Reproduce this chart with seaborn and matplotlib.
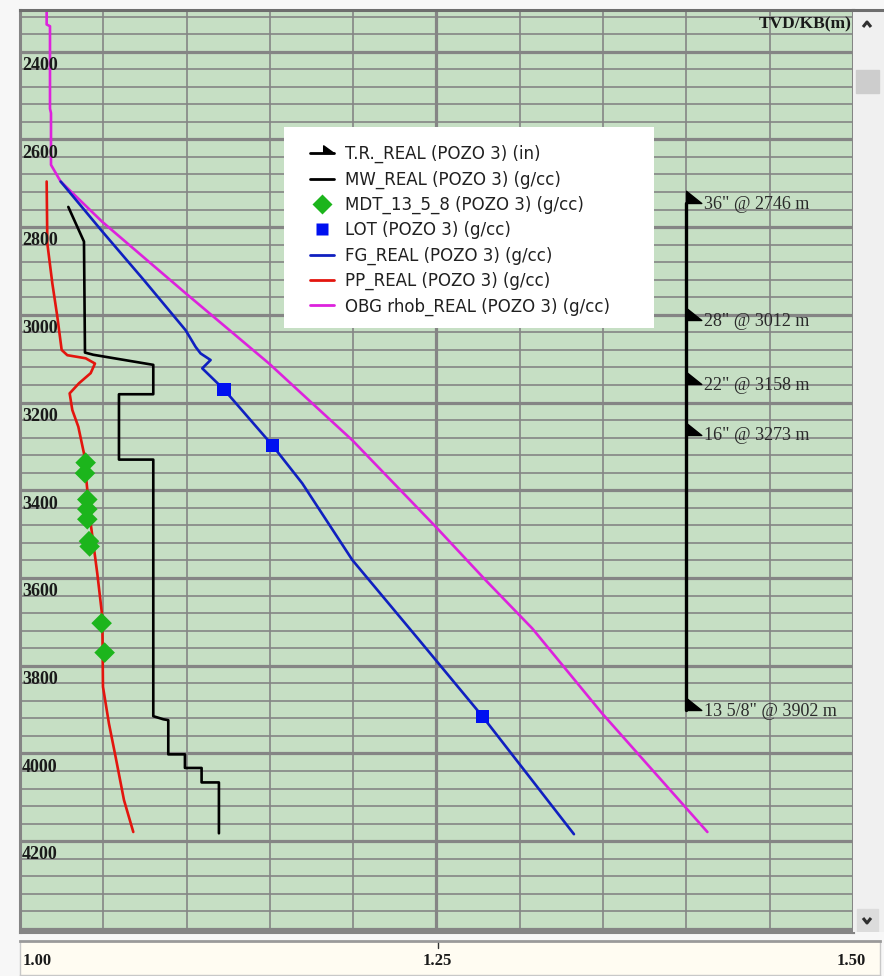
import numpy as np
import seaborn as sns
import matplotlib as mpl
from matplotlib import pyplot as plt
from matplotlib.lines import Line2D
from matplotlib.patches import Rectangle
from matplotlib.path import Path

# ---- values (TVD in m, density in g/cc)
obg_depth = [2305, 2338, 2342, 2530, 2540, 2658, 2696, 2788, 2951, 3111, 3286, 3483, 3605, 3715, 3909, 4179]
obg_val = [1.0160, 1.0160, 1.0180, 1.0180, 1.0186, 1.0186, 1.0244, 1.0494, 1.0995, 1.1495,
           1.1995, 1.2495, 1.2795, 1.3075, 1.3495, 1.4126]

fg_depth = [2696, 2810, 2921, 3035, 3073, 3088, 3103, 3122, 3170, 3297, 3384, 3559, 3741, 3915, 4184]
fg_val = [1.0244, 1.0494, 1.0744, 1.0994, 1.1054, 1.1084, 1.1144, 1.1094, 1.1224, 1.1514,
          1.1694, 1.1995, 1.2395, 1.2775, 1.3325]

pp_depth = [2696, 2837, 2928, 3004, 3080, 3092, 3099, 3111, 3133, 3156, 3179, 3217, 3255, 3316,
            3361, 3475, 3590, 3688, 3848, 3932, 4008, 4106, 4179]
pp_val = [1.0160, 1.0164, 1.0194, 1.0224, 1.0250, 1.0284, 1.0394, 1.0450, 1.0424, 1.0354, 1.0298,
          1.0314, 1.0350, 1.0384, 1.0394, 1.0424, 1.0464, 1.0494, 1.0498, 1.0534, 1.0574, 1.0624, 1.0680]

mw_depth = [2754, 2833, 3086, 3091, 3114, 3181, 3181, 3330, 3330, 3915, 3922, 3924, 4002, 4002,
            4033, 4033, 4066, 4066, 4182]
mw_val = [1.029, 1.0384, 1.039, 1.044, 1.080, 1.080, 1.0594, 1.0594, 1.080, 1.080, 1.086, 1.089,
          1.089, 1.099, 1.099, 1.109, 1.109, 1.1194, 1.1194]

mdt_depth = [3337, 3361, 3421, 3443, 3466, 3516, 3528, 3703, 3770]
mdt_val = [1.0394, 1.0390, 1.0404, 1.0404, 1.0404, 1.0414, 1.0418, 1.0490, 1.0508]

lot_depth = [3170, 3297, 3915]
lot_val = [1.1224, 1.1514, 1.2775]

casing_depth = [2746, 3012, 3158, 3273, 3902]
casing_size = ['36"', '28"', '22"', '16"', '13 5/8"']
casing_x = 1.40

depth_labels = [2400, 2600, 2800, 3000, 3200, 3400, 3600, 3800, 4000, 4200, 4400]
legend_labels = ['T.R._REAL (POZO 3) (in)', 'MW_REAL (POZO 3) (g/cc)', 'MDT_13_5_8 (POZO 3) (g/cc)',
                 'LOT (POZO 3) (g/cc)', 'FG_REAL (POZO 3) (g/cc)', 'PP_REAL (POZO 3) (g/cc)',
                 'OBG rhob_REAL (POZO 3) (g/cc)']

sns.set_style("white")
mpl.rcParams['font.family'] = ['DejaVu Sans']

C_BG = '#C6DFC4'
C_GRID = '#858585'
C_OBG = '#DD22DD'
C_FG = '#1020C0'
C_LOT = '#0010F0'
C_PP = '#E3150E'
C_MDT = '#1CB51C'
serif = ['Liberation Serif', 'DejaVu Serif']

fig = plt.figure(figsize=(8.84, 9.76), dpi=100, facecolor='#F7F7F7')
W, H = 884, 976
ax = fig.add_axes([20 / W, 1 - 932 / H, 833 / W, 922 / H])
ax.set_facecolor(C_BG)

# grid: minor every 0.05 / 40 m, major at 1.25 / every 200 m
ax.set_xlim(1.0, 1.5)
ax.set_ylim(4407, 2305)
ax.set_xticks([1.25])
ax.set_xticks(np.arange(1.0, 1.5001, 0.05), minor=True)
ax.set_yticks(np.arange(2400, 4401, 200))
ax.set_yticks(np.arange(2320, 4401, 40), minor=True)
ax.grid(which='major', color=C_GRID, lw=2.3)
ax.grid(which='minor', color=C_GRID, lw=1.2)
ax.tick_params(which='both', length=0, labelbottom=False, labelleft=False)
for s in ax.spines.values():
    s.set_color(C_GRID)
    s.set_linewidth(2.2)
ax.spines['top'].set_color('#6E6E6E')
ax.set_axisbelow(True)

# curves
sns.lineplot(x=obg_val, y=obg_depth, sort=False, estimator=None, color=C_OBG, lw=1.9, ax=ax)
sns.lineplot(x=fg_val, y=fg_depth, sort=False, estimator=None, color=C_FG, lw=1.9, ax=ax)
sns.lineplot(x=pp_val, y=pp_depth, sort=False, estimator=None, color=C_PP, lw=1.9, ax=ax)
sns.lineplot(x=mw_val, y=mw_depth, sort=False, estimator=None, color='black', lw=1.9, ax=ax)
sns.scatterplot(x=mdt_val, y=mdt_depth, marker='D', s=110, color=C_MDT, edgecolor='none', ax=ax, zorder=5)
sns.scatterplot(x=lot_val, y=lot_depth, marker='s', s=90, color=C_LOT, edgecolor='none', ax=ax, zorder=5)

# casing shoes
shoe = Path([(0, 0), (0, 1), (1.25, 0), (0, 0)])
ax.plot([casing_x, casing_x], [casing_depth[0], casing_depth[-1]], color='black', lw=2.4, zorder=4)
ax.plot([casing_x] * len(casing_depth), casing_depth, ls='none', marker=shoe, ms=22,
        color='black', zorder=4)
for d, sz in zip(casing_depth, casing_size):
    ax.text(casing_x + 0.0106, d + 13, f'{sz} @ {d} m', family=serif, fontsize=13,
            color='#2A2A2A', va='baseline', ha='left')

# depth labels inside the track
for d in depth_labels:
    ax.text(1.0012, d + 12, str(d), family=serif, fontsize=13, fontweight='bold',
            color='#1A1A1A', va='top', ha='left', clip_on=True)
ax.text(0.9985, 0.993, 'TVD/KB(m)', transform=ax.transAxes, family=serif, fontsize=12.5,
        fontweight='bold', color='#1A1A1A', va='top', ha='right')

# legend: white box drawn by hand, entries from ax.legend
ax.add_patch(Rectangle((284 / W, 1 - 328 / H), 370 / W, 201 / H, transform=fig.transFigure,
                       facecolor='white', edgecolor='none', zorder=5.5, clip_on=False))
tr_mark = Path([(0.1, 0), (0.1, 0.65), (1.0, 0), (0.1, 0)])
handles = [
    Line2D([], [], color='black', lw=2, marker=tr_mark, ms=17),
    Line2D([], [], color='black', lw=2),
    Line2D([], [], color=C_MDT, ls='none', marker='D', ms=10, mec='none'),
    Line2D([], [], color=C_LOT, ls='none', marker='s', ms=9, mec='none'),
    Line2D([], [], color=C_FG, lw=2),
    Line2D([], [], color=C_PP, lw=2),
    Line2D([], [], color=C_OBG, lw=2),
]
leg = ax.legend(handles, legend_labels, loc='upper left', bbox_to_anchor=(310 / W, 1 - 145 / H),
                bbox_transform=fig.transFigure, borderaxespad=0, frameon=False, fontsize=12,
                handlelength=1.42, handletextpad=0.68, labelspacing=0.43, borderpad=0)
leg.set_zorder(7)
for t in leg.get_texts():
    t.set_color('#202020')

# scrollbar on the right
sb = fig.add_axes([853 / W, 1 - 932 / H, 31 / W, 922 / H])
sb.set_facecolor('#F0F0F0')
sb.set_xlim(0, 31)
sb.set_ylim(932, 10)
sb.set_xticks([])
sb.set_yticks([])
for s in sb.spines.values():
    s.set_visible(False)
sb.spines['top'].set_visible(True)
sb.spines['top'].set_color('#6E6E6E')
sb.spines['top'].set_linewidth(2.2)
sb.add_patch(Rectangle((3, 70), 23, 23, color='#CDCDCD'))
sb.add_patch(Rectangle((4, 909), 21, 23, color='#DCDCDC'))
sb.plot([10, 14, 18], [27, 22, 27], color='#303030', lw=2.2, solid_capstyle='butt')
sb.plot([10, 14, 18], [918, 923, 918], color='#303030', lw=2.2, solid_capstyle='butt')

# density scale bar below the track
bar = fig.add_axes([20 / W, 1 - 975 / H, 860 / W, 34 / H])
bar.set_facecolor('#FFFCF2')
bar.set_xlim(1.0 - 1 / 1666, 1.0 + 859 / 1666)
bar.set_ylim(0, 1)
bar.set_xticks([])
bar.set_yticks([])
for s in bar.spines.values():
    s.set_color('#C8C8C8')
    s.set_linewidth(1)
bar.spines['top'].set_color('#9A9A9A')
bar.spines['top'].set_linewidth(2)
bar.plot([1.25, 1.25], [1, 0.78], color='#303030', lw=1)
bar.text(1.0008, 0.42, '1.00', family=serif, fontsize=12, fontweight='bold', color='#1A1A1A',
         ha='left', va='center')
bar.text(1.25, 0.42, '1.25', family=serif, fontsize=12, fontweight='bold', color='#1A1A1A',
         ha='center', va='center')
bar.text(1.5072, 0.42, '1.50', family=serif, fontsize=12, fontweight='bold', color='#1A1A1A',
         ha='right', va='center')

fig.savefig('out.png', dpi=100, facecolor=fig.get_facecolor())
